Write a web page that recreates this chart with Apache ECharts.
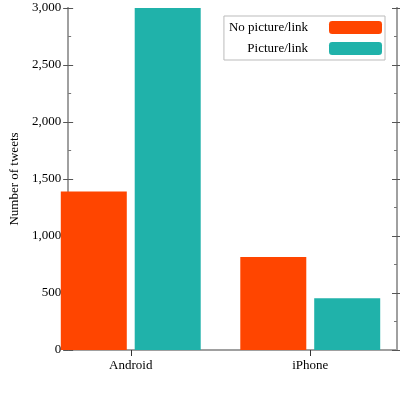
<!DOCTYPE html>
<html>
<head>
<meta charset="utf-8">
<script src="https://cdn.jsdelivr.net/npm/echarts@6/dist/echarts.min.js"></script>
<style>html,body{margin:0;padding:0;background:#fff}#main{width:400px;height:400px}</style>
</head>
<body>
<div id="main"></div>
<script>
var categories = ['Android', 'iPhone'];
var noPicture = [1390, 815];
var picture = [3000, 455];
var yTicks = [0, 500, 1000, 1500, 2000, 2500, 3000];

var font = 'Liberation Serif';
var grey = '#a0a0a0';

function frameAxis(pos, inside, labels) {
    return {
        type: 'value', gridIndex: 1, position: pos, min: 0, max: 3000, interval: 500,
        axisLine: {show: true, lineStyle: {color: grey, width: 2}},
        axisTick: {show: true, inside: inside, length: 5, lineStyle: {color: '#555'}},
        minorTick: {show: inside, splitNumber: 2, length: 3, lineStyle: {color: '#777'}},
        splitLine: {show: false},
        axisLabel: {show: labels, color: '#000', fontFamily: font, fontSize: 13, margin: 7},
        name: labels ? 'Number of tweets' : '',
        nameLocation: 'middle', nameGap: 47,
        nameTextStyle: {color: '#000', fontFamily: font, fontSize: 13}
    };
}

var myChart = echarts.init(document.getElementById('main'));
var option = {
    animation: false,
    textStyle: {fontFamily: font},
    legend: {
        data: ['No picture/link', 'Picture/link'],
        orient: 'vertical', right: 15, top: 16, align: 'right',
        itemWidth: 53, itemHeight: 13, itemGap: 8,
        padding: [5, 3, 5, 5],
        borderColor: '#bbb', borderWidth: 1,
        textStyle: {color: '#000', fontFamily: font, fontSize: 13, padding: [0, 16, 0, 0]}
    },
    grid: [
        {left: 41, width: 372, top: 8, bottom: 50},
        {left: 60, right: 3, top: 8, bottom: 50}
    ],
    xAxis: [
        {
            type: 'category', gridIndex: 0, data: categories,
            axisLine: {show: false},
            axisTick: {show: true, alignWithLabel: true, length: 6, lineStyle: {color: '#333'}},
            axisLabel: {color: '#000', fontFamily: font, fontSize: 13, margin: 9}
        },
        {
            type: 'value', gridIndex: 1, min: 0, max: 1,
            axisLine: {show: true, lineStyle: {color: grey, width: 2}},
            axisTick: {show: false}, axisLabel: {show: false}, splitLine: {show: false}
        }
    ],
    yAxis: [
        {type: 'value', gridIndex: 0, min: 0, max: 3000, show: false},
        frameAxis('left', false, true),
        frameAxis('left', true, false),
        frameAxis('right', false, false),
        frameAxis('right', true, false)
    ],
    series: [
        {
            name: 'No picture/link', type: 'bar', xAxisIndex: 0, yAxisIndex: 0,
            data: noPicture, barWidth: 66, barGap: '12%',
            itemStyle: {color: '#FF4500'}
        },
        {
            name: 'Picture/link', type: 'bar', xAxisIndex: 0, yAxisIndex: 0,
            data: picture, barWidth: 66,
            itemStyle: {color: '#20B2AA'}
        }
    ]
};
myChart.setOption(option);
</script>
</body>
</html>
